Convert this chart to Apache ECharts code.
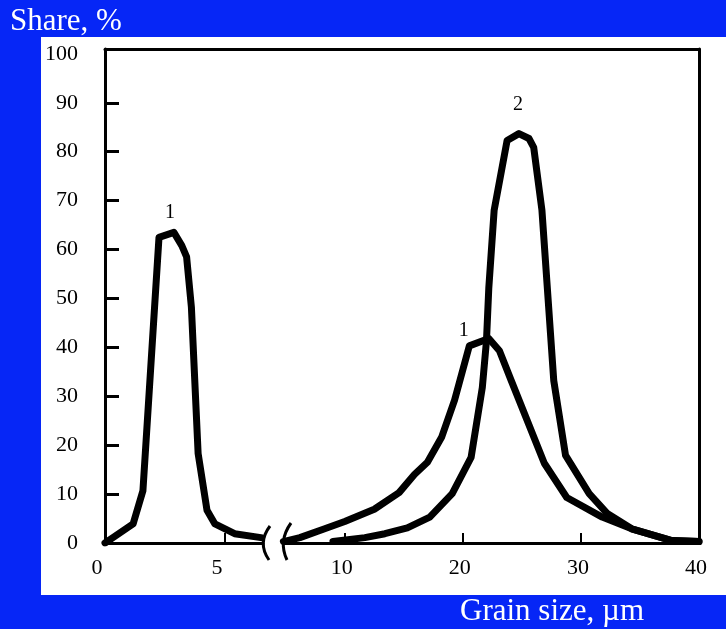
<!DOCTYPE html>
<html>
<head>
<meta charset="utf-8">
<script src="https://cdn.jsdelivr.net/npm/echarts@6/dist/echarts.min.js"></script>
<style>
  html, body { margin: 0; padding: 0; }
  #chart { width: 726px; height: 629px; }
</style>
</head>
<body>
<div id="chart"></div>
<script>
// curve 1, fine fraction (left part of the broken axis)
var fineX = [0, 0.33, 1.17, 1.58, 2.25, 2.87, 3.2, 3.4, 3.6, 3.88, 4.25, 4.58, 5.4, 6.5];
var fineY = [0, 1.1, 3.9, 10.7, 62.5, 63.5, 60.8, 58.5, 48.2, 18.3, 6.7, 3.9, 1.9, 1.1];
// curve 1, coarse fraction (right part)
var coarseX = [4.8, 6.2, 8.3, 10, 12.5, 14.6, 15.9, 17.0, 18.2, 19.3, 20.55, 22.2, 23.1, 24.1, 26.9, 28.8, 31.8, 34.3, 37.7, 40];
var coarseY = [0.3, 1.1, 2.9, 4.4, 6.9, 10.3, 14.0, 16.5, 21.6, 29.2, 40.3, 41.8, 39.3, 33.2, 16.3, 9.3, 5.3, 2.9, 0.5, 0.3];
// curve 2
var c2X = [9, 11.7, 13.4, 15.3, 17.2, 19.1, 20.7, 21.65, 22.0, 22.2, 22.65, 23.75, 24.75, 25.6, 26.0, 26.7, 27.7, 28.7, 30.7, 32.2, 34.3, 37.7, 40];
var c2Y = [0.3, 1.1, 1.9, 3.1, 5.3, 10.1, 17.5, 31.8, 41.3, 52.2, 68, 82.3, 83.7, 82.7, 80.9, 68, 33.2, 17.9, 10.1, 6.1, 2.9, 0.5, 0.3];

var yTicks = [0, 10, 20, 30, 40, 50, 60, 70, 80, 90, 100];
var leftTicks = [0, 5];
var rightTicks = [10, 20, 30, 40];

function pairs(xs, ys) {
    return xs.map(function (x, i) { return [x, ys[i]]; });
}
function peak(xs, ys) {
    var i = ys.indexOf(Math.max.apply(null, ys));
    return [xs[i], ys[i]];
}

var serif = 'Liberation Serif';
var black = '#000';
var lineW = 7;

var mychart = echarts.init(document.getElementById('chart'));

var lbl = { color: black, fontFamily: serif, fontSize: 22 };

mychart.setOption({
    backgroundColor: '#0626f6',
    animation: false,
    title: [
        { text: 'Share, %', left: 5, top: 1, textStyle: { color: '#fff', fontFamily: serif, fontSize: 31, fontWeight: 'normal' } },
        { text: 'Grain size, µm', left: 455, top: 591, textStyle: { color: '#fff', fontFamily: serif, fontSize: 31, fontWeight: 'normal' } }
    ],
    graphic: [
        { type: 'rect', z: -10, shape: { x: 41, y: 37, width: 685, height: 558 }, style: { fill: '#fff' } },
        { type: 'bezierCurve', z: 10, shape: { x1: 270, y1: 526, cpx1: 257, cpy1: 543, x2: 269, y2: 560 }, style: { stroke: black, lineWidth: 3, fill: null } },
        { type: 'bezierCurve', z: 10, shape: { x1: 291, y1: 523, cpx1: 278, cpy1: 541, x2: 287, y2: 560 }, style: { stroke: black, lineWidth: 3, fill: null } }
    ],
    grid: [
        { left: 105, top: 49, width: 158, height: 494 },
        { left: 283, top: 49, width: 416, height: 494 },
        { left: 105, top: 49, width: 594, height: 494 }
    ],
    xAxis: [{
        gridIndex: 0, type: 'value', min: 0, max: 158 / 24,
        splitLine: { show: false },
        axisLine: { onZero: false, lineStyle: { color: black, width: 3 } },
        axisTick: { inside: true, length: 10, lineStyle: { color: black, width: 2 }, customValues: [5] },
        axisLabel: Object.assign({ margin: 14, padding: [0, 16, 0, 0], customValues: leftTicks }, lbl)
    }, {
        gridIndex: 1, type: 'value', min: 4.77, max: 40,
        splitLine: { show: false },
        axisLine: { onZero: false, lineStyle: { color: black, width: 3 } },
        axisTick: { inside: true, length: 10, lineStyle: { color: black, width: 2 }, customValues: [10, 20, 30] },
        axisLabel: Object.assign({ margin: 14, padding: [0, 6, 0, 0], customValues: rightTicks }, lbl)
    }, {
        gridIndex: 2, type: 'value', min: 0, max: 1, position: 'top',
        splitLine: { show: false }, axisTick: { show: false }, axisLabel: { show: false },
        axisLine: { onZero: false, lineStyle: { color: black, width: 3 } }
    }],
    yAxis: [{
        gridIndex: 0, type: 'value', min: 0, max: 101,
        splitLine: { show: false },
        axisLine: { show: true, onZero: false, lineStyle: { color: black, width: 3 } },
        axisTick: { inside: true, length: 14, lineStyle: { color: black, width: 3 }, customValues: yTicks.slice(1, -1) },
        axisLabel: Object.assign({ margin: 27, customValues: yTicks }, lbl)
    }, {
        gridIndex: 1, type: 'value', min: 0, max: 101, show: false
    }, {
        gridIndex: 2, type: 'value', min: 0, max: 1, position: 'right',
        splitLine: { show: false }, axisTick: { show: false }, axisLabel: { show: false },
        axisLine: { show: true, onZero: false, lineStyle: { color: black, width: 3 } }
    }],
    series: [{
        name: '1 fine',
        type: 'line', xAxisIndex: 0, yAxisIndex: 0,
        data: pairs(fineX, fineY),
        showSymbol: false, symbol: 'none',
        lineStyle: { color: black, width: lineW, join: 'round', cap: 'round' },
        markPoint: {
            symbolSize: 0,
            label: { show: true, formatter: '1', color: black, fontFamily: serif, fontSize: 20, offset: [-4, -20] },
            data: [{ coord: peak(fineX, fineY) }]
        }
    }, {
        name: '1 coarse',
        type: 'line', xAxisIndex: 1, yAxisIndex: 1,
        data: pairs(coarseX, coarseY),
        showSymbol: false, symbol: 'none',
        lineStyle: { color: black, width: lineW, join: 'round', cap: 'round' },
        markPoint: {
            symbolSize: 0,
            label: { show: true, formatter: '1', color: black, fontFamily: serif, fontSize: 20, offset: [-25, -8] },
            data: [{ coord: peak(coarseX, coarseY) }]
        }
    }, {
        name: '2',
        type: 'line', xAxisIndex: 1, yAxisIndex: 1,
        data: pairs(c2X, c2Y),
        showSymbol: false, symbol: 'none',
        lineStyle: { color: black, width: lineW, join: 'round', cap: 'round' },
        markPoint: {
            symbolSize: 0,
            label: { show: true, formatter: '2', color: black, fontFamily: serif, fontSize: 20, offset: [-1, -29] },
            data: [{ coord: peak(c2X, c2Y) }]
        }
    }]
});
</script>
</body>
</html>
